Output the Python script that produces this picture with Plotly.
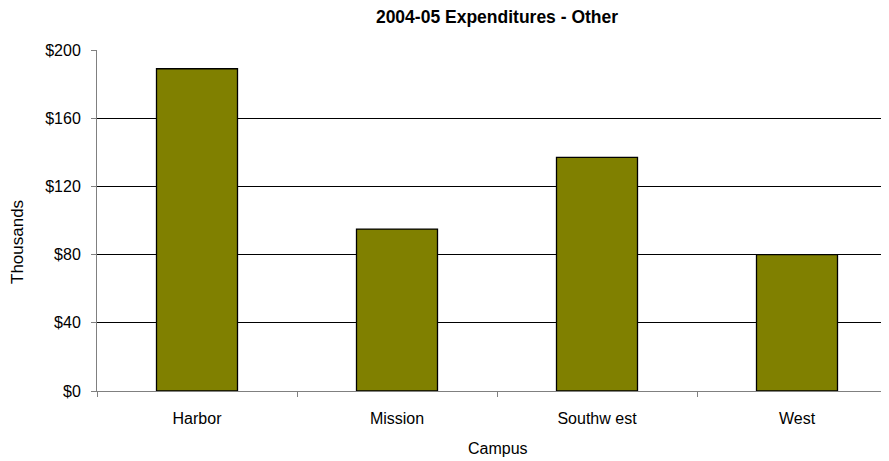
import plotly.graph_objects as go

campuses = ["Harbor", "Mission", "Southwest", "West"]
tick_labels = ["Harbor", "Mission", "Southw est", "West"]
other_thousands = [189, 95, 137, 80]
y_ticks = [0, 40, 80, 120, 160, 200]
y_tick_text = ["$0", "$40", "$80", "$120", "$160", "$200"]

# page body has an 8px default margin, so the figure is offset by 8px
W, H = 881, 453
PLOT_W, PLOT_H = 792, 341

fig = go.Figure(
    go.Bar(
        x=list(range(len(campuses))),
        y=other_thousands,
        marker=dict(color="#808000", line=dict(color="#000000", width=1.3)),
        width=0.405,
    )
)

fig.update_layout(
    width=W,
    height=H,
    margin=dict(l=89, r=0, t=42, b=70),
    paper_bgcolor="white",
    plot_bgcolor="white",
    font=dict(family="Liberation Sans, Arial, sans-serif", size=16, color="#000000"),
    title=dict(
        text="<b>2004-05 Expenditures - Other</b>",
        x=489 / W,
        xanchor="center",
        y=1 - 9 / H,
        yanchor="middle",
        font=dict(size=17.5),
    ),
    showlegend=False,
    annotations=[
        dict(
            text="Thousands", xref="paper", yref="paper",
            x=-79 / PLOT_W, y=(391 - 242) / PLOT_H,
            xanchor="center", yanchor="middle",
            textangle=-90, showarrow=False, font=dict(size=17),
        ),
        dict(
            text="Campus", xref="paper", yref="paper",
            x=(498 - 97) / PLOT_W, y=-(448 - 391) / PLOT_H,
            xanchor="center", yanchor="middle",
            showarrow=False, font=dict(size=16),
        ),
    ],
)

fig.update_xaxes(
    range=[-0.5, -0.5 + PLOT_W / 200],
    tickvals=[0, 1, 2, 3],
    ticktext=tick_labels,
    ticks="",
    showline=True,
    linecolor="#808080",
    linewidth=1,
    showgrid=False,
    zeroline=False,
    automargin=False,
    ticklabelstandoff=13,
    tickfont=dict(size=16),
    minor=dict(tickvals=[-0.5, 0.5, 1.5, 2.5], ticks="outside", ticklen=5,
               tickcolor="#808080", showgrid=False),
)

fig.update_yaxes(
    range=[0, 200],
    tickvals=y_ticks,
    ticktext=y_tick_text,
    ticks="outside",
    ticklen=5,
    tickcolor="#808080",
    showline=True,
    linecolor="#808080",
    linewidth=1,
    showgrid=True,
    gridcolor="#000000",
    gridwidth=1,
    zeroline=False,
    automargin=False,
    ticklabelstandoff=7,
    tickfont=dict(size=16),
)

fig.write_html("out.html")
